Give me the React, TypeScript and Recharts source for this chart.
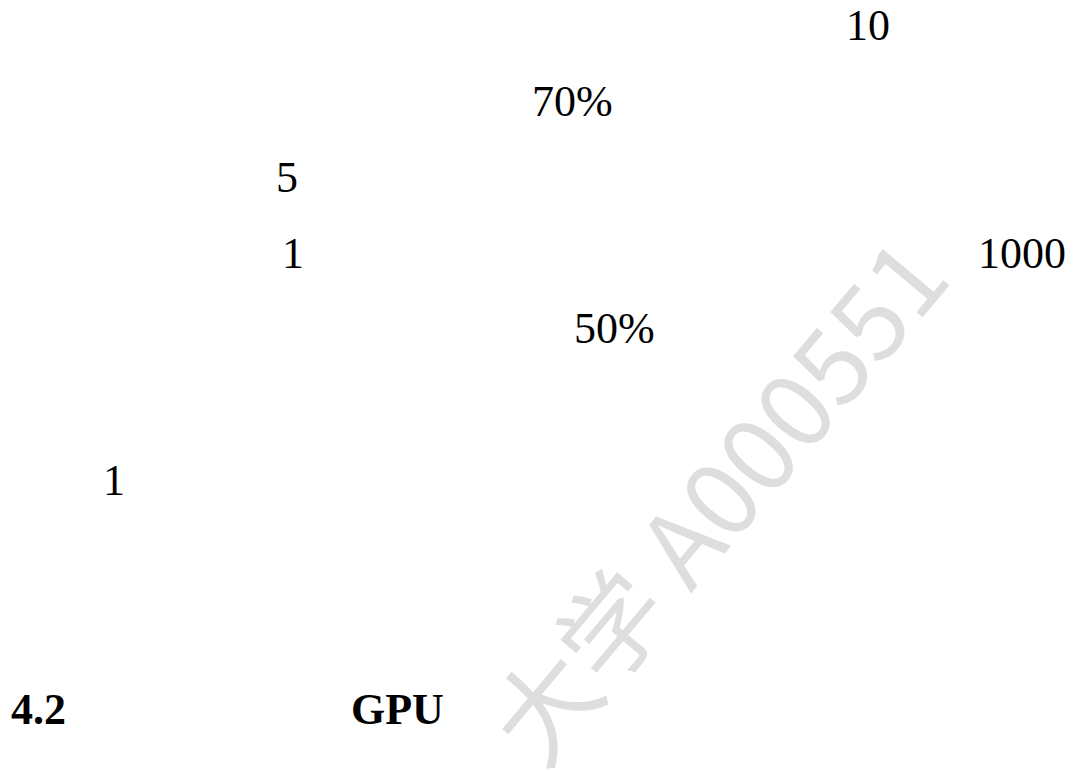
import { Scatter, ScatterChart, XAxis, YAxis } from "recharts";

// page text fragments (Times-like serif), baseline positions in page pixels
const labels = ["10", "70%", "5", "1", "1000", "50%", "1", "4.2", "GPU"];
const xs = [846, 532, 276, 282, 978, 574, 103, 11, 351];
const ys = [42, 121, 200, 279, 279, 358, 516, 755, 755];
const bold = [false, false, false, false, false, false, false, true, true];

// diagonal watermark
const watermarkText = ["大学 A000551"];
const watermarkX = [542];
const watermarkY = [804];

const WIDTH = 1075;
const HEIGHT = 771;

const textData = labels.map((label, i) => ({
  x: xs[i],
  y: ys[i],
  label,
  bold: bold[i],
}));

const markData = watermarkText.map((label, i) => ({
  x: watermarkX[i],
  y: watermarkY[i],
  label,
}));

function TextShape(props: any) {
  const { cx, cy, payload } = props;
  return (
    <text
      x={cx}
      y={cy}
      fill="#000"
      fontFamily="'Liberation Serif', 'Times New Roman', serif"
      fontSize={44}
      fontWeight={payload.bold ? 700 : 400}
    >
      {payload.label}
    </text>
  );
}

function WatermarkShape(props: any) {
  const { cx, cy, payload } = props;
  return (
    <text
      x={cx}
      y={cy}
      fill="#dedede"
      fontFamily="'Noto Sans CJK SC', 'Noto Sans', sans-serif"
      fontSize={104}
      fontWeight={400}
      transform={`rotate(-50 ${cx} ${cy})`}
    >
      {payload.label}
    </text>
  );
}

export default function App() {
  return (
    <div
      style={{
        position: "fixed",
        top: 0,
        left: 0,
        width: WIDTH,
        height: HEIGHT,
        background: "#fff",
        overflow: "hidden",
      }}
    >
      <ScatterChart
        width={WIDTH}
        height={HEIGHT}
        margin={{ top: 0, right: 0, bottom: 0, left: 0 }}
      >
        <XAxis type="number" dataKey="x" domain={[0, WIDTH]} hide />
        <YAxis type="number" dataKey="y" domain={[0, HEIGHT]} reversed hide />
        <Scatter
          data={markData}
          shape={WatermarkShape}
          isAnimationActive={false}
        />
        <Scatter data={textData} shape={TextShape} isAnimationActive={false} />
      </ScatterChart>
    </div>
  );
}
